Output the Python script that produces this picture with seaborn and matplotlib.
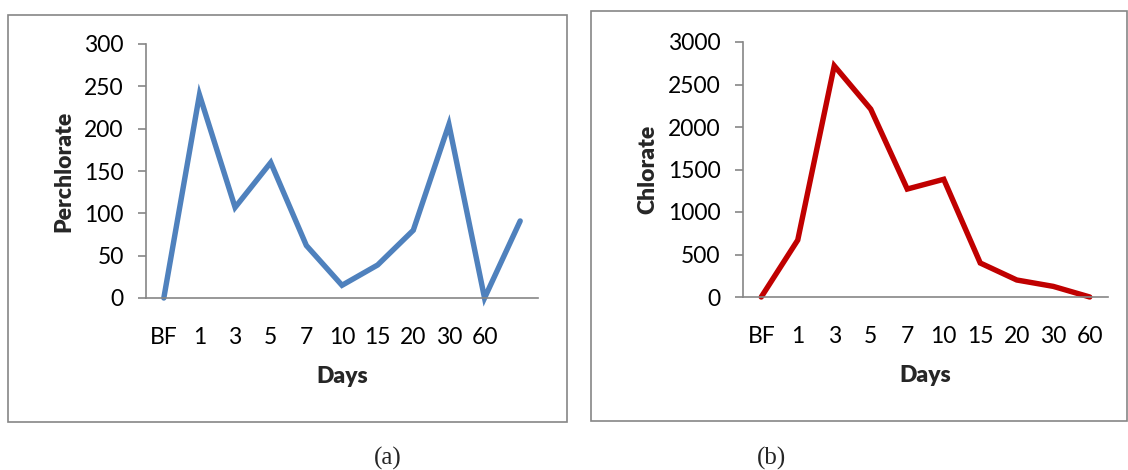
import numpy as np
import matplotlib
matplotlib.use("Agg")
import matplotlib.pyplot as plt
import seaborn as sns
from matplotlib.patches import Rectangle

# Sampling days (panel a has one extra, unlabelled sample at the end)
days_a = ["BF", "1", "3", "5", "7", "10", "15", "20", "30", "60", ""]
perchlorate = [0, 240, 107, 160, 62, 15, 39, 80, 205, 0, 91]

days_b = ["BF", "1", "3", "5", "7", "10", "15", "20", "30", "60"]
chlorate = [0, 670, 2720, 2210, 1270, 1385, 400, 200, 125, 0]

yticks_a = [0, 50, 100, 150, 200, 250, 300]
yticks_b = [0, 500, 1000, 1500, 2000, 2500, 3000]

sns.set_theme(style="white")
plt.rcParams["font.family"] = ["Lato", "DejaVu Sans"]

AXIS_GREY = "#868686"
BLUE = "#4F81BD"
RED = "#C00000"
FS = 16.5

W, H = 1128, 470
fig = plt.figure(figsize=(W / 100, H / 100), dpi=100)


def px_axes(x0, y0, x1, y1):
    return fig.add_axes([x0 / W, 1 - y1 / H, (x1 - x0) / W, (y1 - y0) / H])


def style_axes(ax, labels, yticks, ylabel, color, values):
    n = len(labels)
    sns.lineplot(x=np.arange(n), y=values, ax=ax, color=color, linewidth=3.9,
                 solid_joinstyle="miter", solid_capstyle="round", clip_on=False)
    ax.set_xlim(-0.5, n - 0.5)
    ax.set_ylim(yticks[0], yticks[-1])
    ax.set_yticks(yticks)
    ax.set_yticklabels([str(v) for v in yticks])
    ax.set_xticks(np.arange(n))
    ax.set_xticklabels(labels)
    for side in ("top", "right"):
        ax.spines[side].set_visible(False)
    for side in ("left", "bottom"):
        ax.spines[side].set_color(AXIS_GREY)
        ax.spines[side].set_linewidth(1.2)
    ax.tick_params(axis="y", which="major", left=True, length=6, width=1.2,
                   color=AXIS_GREY, pad=10, labelsize=FS, labelcolor="black")
    ax.tick_params(axis="x", which="major", bottom=False, length=0, pad=21,
                   labelsize=FS, labelcolor="black")
    ax.set_xlabel("Days", fontsize=FS, fontweight="heavy", labelpad=13)
    ax.set_ylabel(ylabel, fontsize=FS, fontweight="heavy", labelpad=7)
    ax.grid(False)
    ax.set_facecolor("none")


# Panel (a)
ax_a = px_axes(146, 44, 538, 298)
style_axes(ax_a, days_a, yticks_a, "Perchlorate", BLUE, perchlorate)

# Panel (b)
ax_b = px_axes(743, 42, 1108, 297)
style_axes(ax_b, days_b, yticks_b, "Chlorate", RED, chlorate)

# Frames around each chart
for (x0, y0, x1, y1) in [(8, 15, 567, 422), (591, 11, 1127, 421)]:
    fig.patches.append(Rectangle((x0 / W, 1 - y1 / H), (x1 - x0) / W, (y1 - y0) / H,
                                 transform=fig.transFigure, fill=False,
                                 edgecolor=AXIS_GREY, linewidth=1.2))

# Panel captions
fig.text(388 / W, 1 - 458 / H, "(a)", ha="center", va="center",
         fontsize=18, family=["Liberation Serif", "DejaVu Serif"])
fig.text(772 / W, 1 - 458 / H, "(b)", ha="center", va="center",
         fontsize=18, family=["Liberation Serif", "DejaVu Serif"])

fig.savefig("out.png", dpi=100)
